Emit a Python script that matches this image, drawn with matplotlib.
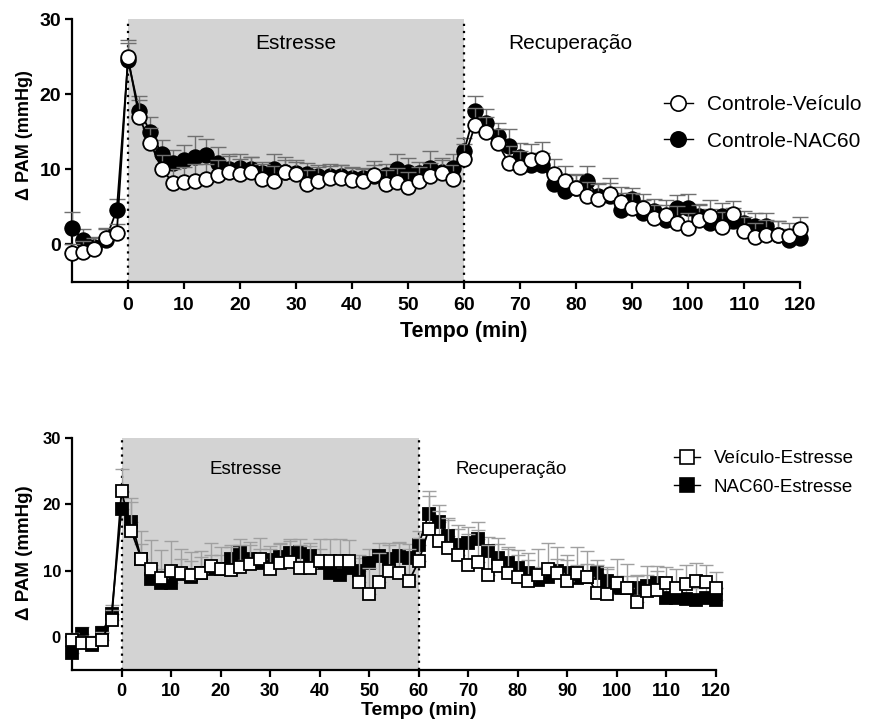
import numpy as np
import matplotlib
matplotlib.use("Agg")
import matplotlib.pyplot as plt
from matplotlib.lines import Line2D

plt.rcParams['font.family'] = ['Liberation Sans', 'DejaVu Sans']

# time points (min), one every 2 min
tempo = list(range(-10, 122, 2))

# top panel: controls
ctrl_veh = [-1.1, -1.0, -0.6, 0.9, 1.5,
            24.9, 16.9, 13.5, 10.1, 8.2, 8.3, 8.5, 8.7, 9.2, 9.7, 9.4,
            9.7, 8.7, 8.5, 9.6, 9.4, 8.0, 8.5, 8.8, 8.8, 8.6,
            8.5, 9.3, 8.1, 8.3, 7.7, 8.4, 9.1, 9.5, 8.7, 11.4,
            15.9, 15.0, 13.5, 10.8, 10.3, 11.3, 11.5, 9.4, 8.5, 7.5,
            6.4, 6.0, 6.7, 5.6, 4.9, 4.9, 3.5, 3.9, 2.9, 2.2,
            3.3, 3.8, 2.3, 4.0, 1.8, 1.0, 1.3, 1.3, 1.1, 2.0]
ctrl_veh_err = [1.2, 1.5, 1.4, 1.3, 1.2,
                2.3, 2.3, 2.0, 1.8, 1.9, 2.0, 2.2, 2.0, 2.0, 2.1, 2.0,
                1.9, 2.0, 1.9, 2.0, 1.8, 1.9, 1.8, 1.7, 1.8, 1.7,
                1.7, 1.8, 1.8, 1.9, 2.0, 1.9, 1.8, 1.8, 1.9, 2.0,
                2.2, 2.0, 1.9, 2.3, 2.1, 2.0, 2.1, 2.0, 1.9, 1.9,
                1.9, 2.0, 2.2, 2.0, 1.9, 1.8, 1.8, 2.0, 2.2, 2.0,
                1.9, 2.1, 2.0, 1.8, 1.8, 1.9, 1.9, 1.8, 1.8, 1.6]
ctrl_nac = [2.2, 0.6, -0.3, 0.6, 4.6,
            24.5, 17.8, 15.0, 12.1, 10.8, 11.2, 11.7, 11.9, 10.8, 10.0, 10.2,
            10.0, 9.5, 10.0, 9.7, 9.5, 9.4, 9.1, 9.1, 9.1, 8.8,
            8.8, 9.1, 9.3, 10.0, 9.7, 9.5, 10.2, 9.7, 10.2, 12.4,
            17.8, 16.2, 14.4, 13.1, 11.7, 10.6, 10.6, 8.0, 7.1, 7.5,
            8.4, 6.4, 6.4, 4.6, 6.0, 4.2, 4.4, 3.3, 4.8, 4.9,
            3.8, 2.9, 3.8, 3.1, 2.8, 2.4, 2.5, 1.3, 0.6, 0.8]
ctrl_nac_err = [2.1, 1.5, 1.3, 1.5, 1.4,
                2.3, 2.0, 2.0, 1.8, 1.8, 2.0, 2.7, 2.1, 2.1, 2.1, 1.9,
                1.7, 1.5, 2.0, 1.6, 1.5, 1.4, 1.5, 1.6, 1.5, 1.4,
                1.3, 1.5, 1.4, 2.0, 1.8, 1.5, 2.2, 1.8, 1.8, 1.7,
                1.9, 1.8, 1.8, 2.3, 1.8, 1.6, 1.6, 1.7, 1.8, 1.7,
                2.0, 1.8, 1.8, 2.3, 1.5, 1.7, 1.6, 1.9, 1.8, 1.8,
                1.6, 1.8, 1.7, 1.7, 1.6, 1.8, 1.7, 1.8, 1.5, 1.6]

# bottom panel: stressed groups
veh_est = [-0.4, -1.0, -0.9, -0.4, 2.6,
           22.0, 15.9, 11.8, 10.3, 8.9, 10.0, 9.6, 9.3, 9.6, 10.7, 10.3,
           10.1, 10.5, 11.0, 11.7, 10.3, 11.1, 11.3, 10.4, 10.4, 11.4,
           11.4, 11.4, 11.4, 8.3, 6.4, 8.3, 9.9, 9.7, 8.4, 11.4,
           16.2, 14.4, 13.4, 12.4, 10.9, 11.3, 9.4, 10.7, 9.6, 9.1,
           8.4, 9.4, 10.2, 9.7, 8.4, 9.6, 9.1, 6.6, 6.4, 8.2,
           7.4, 5.2, 6.9, 7.1, 8.1, 7.4, 7.9, 8.5, 8.3, 7.4]
veh_est_err = [1.0, 1.2, 1.1, 1.2, 1.5,
               3.3, 5.0, 4.2, 4.3, 4.2, 4.4, 3.6, 3.5, 3.4, 3.5, 3.2,
               3.4, 3.3, 3.3, 3.2, 3.0, 3.0, 3.2, 3.4, 3.3, 3.4,
               3.3, 3.3, 3.2, 4.0, 4.0, 4.4, 4.2, 4.6, 4.8, 3.5,
               5.8, 4.6, 4.6, 4.5, 4.6, 4.8, 4.5, 4.2, 4.0, 4.0,
               4.2, 3.9, 4.0, 3.8, 4.0, 4.0, 3.8, 4.2, 4.1, 3.6,
               3.6, 4.2, 3.8, 3.6, 2.4, 2.8, 2.9, 2.7, 2.6, 2.4]
nac_est = [-2.4, 0.5, -1.3, 0.6, 3.5,
           19.3, 17.4, 11.7, 8.7, 8.2, 8.1, 9.5, 9.1, 9.6, 10.2, 10.3,
           11.8, 12.7, 11.7, 11.2, 11.6, 12.0, 12.7, 12.8, 12.2, 11.2,
           9.6, 9.4, 10.4, 9.9, 11.2, 12.2, 11.7, 12.2, 11.9, 13.9,
           18.6, 17.4, 15.2, 13.9, 14.1, 14.8, 12.9, 11.9, 11.2, 10.4,
           9.6, 8.6, 9.1, 9.9, 9.6, 8.9, 9.1, 9.6, 8.4, 7.4,
           7.4, 7.4, 7.6, 8.1, 5.9, 5.9, 5.7, 5.6, 5.9, 5.6]
nac_est_err = [1.2, 1.0, 1.0, 1.1, 1.3,
               2.5, 3.0, 2.3, 2.2, 2.1, 2.0, 2.2, 2.3, 2.4, 2.2, 2.1,
               2.0, 2.1, 2.2, 2.0, 2.1, 2.0, 2.1, 2.0, 2.0, 2.1,
               2.0, 2.1, 2.0, 2.0, 2.1, 2.0, 2.2, 2.0, 2.1, 2.0,
               2.6, 2.5, 2.4, 2.3, 2.4, 2.5, 2.2, 2.1, 2.0, 2.0,
               2.0, 1.9, 2.0, 1.9, 2.0, 1.9, 1.9, 2.0, 1.9, 1.8,
               1.8, 1.8, 1.7, 1.8, 1.7, 1.8, 1.7, 1.8, 1.7, 1.7]


def style_axes(ax, tick_fs_x, tick_fs_y, xpad):
    ax.spines['top'].set_visible(False)
    ax.spines['right'].set_visible(False)
    ax.spines['left'].set_linewidth(1.6)
    ax.spines['bottom'].set_linewidth(1.6)
    ax.set_xlim(-10, 120)
    ax.set_ylim(-5, 30)
    ax.set_xticks(range(0, 121, 10))
    ax.set_yticks([0, 10, 20, 30])
    ax.tick_params(width=1.6, length=5, direction='out')
    ax.tick_params(axis='x', labelsize=tick_fs_x, pad=xpad)
    ax.tick_params(axis='y', labelsize=tick_fs_y, pad=3)
    for lab in ax.get_xticklabels() + ax.get_yticklabels():
        lab.set_fontweight('bold')
    ax.axvspan(0, 60, color='#d3d3d3', zorder=0, lw=0)
    for xv in (0, 60):
        ax.axvline(xv, color='black', ls=(0, (1, 2.2)), lw=1.6, zorder=1)


def draw_series(ax, y, err, marker, fill, ms, ecol, capsize, z):
    lower = [0] * len(err)
    ax.errorbar(tempo, y, yerr=[lower, err], fmt='none', ecolor=ecol,
                elinewidth=1.0, capsize=capsize, capthick=1.0, zorder=z, clip_on=False)
    ax.plot(tempo, y, color='black', lw=1.3, marker=marker, ms=ms, mfc=fill,
            mec='black', mew=1.3, zorder=z + 1, clip_on=False)


fig = plt.figure(figsize=(8.71, 7.26), dpi=100)

# ---- top panel
ax1 = fig.add_axes([72 / 871, 1 - 282 / 726, 728 / 871, 263 / 726])
style_axes(ax1, 14, 14, 6)
draw_series(ax1, ctrl_nac, ctrl_nac_err, 'o', 'black', 10.5, '#707070', 5.5, 3)
draw_series(ax1, ctrl_veh, ctrl_veh_err, 'o', 'white', 10.5, '#707070', 5.5, 5)
ax1.text(30, 26.0, 'Estresse', ha='center', va='baseline', fontsize=15)
ax1.text(79, 26.0, 'Recuperação', ha='center', va='baseline', fontsize=15)
ax1.set_xlabel('Tempo (min)', fontsize=15.5, fontweight='bold')
ax1.xaxis.set_label_coords(60, -10.2, transform=ax1.transData)
ax1.set_ylabel('Δ PAM (mmHg)', fontsize=13, fontweight='bold')
ax1.yaxis.set_label_coords(-17.0, 14.5, transform=ax1.transData)

h1 = [Line2D([], [], color='black', lw=1.0, marker='o', ms=11, mfc='white', mec='black', mew=1.2),
      Line2D([], [], color='black', lw=1.0, marker='o', ms=11, mfc='black', mec='black', mew=1.2)]
fig.legend(h1, ['Controle-Veículo', 'Controle-NAC60'], loc='center left',
           bbox_to_anchor=(649 / 871, 1 - 123 / 726), frameon=False, fontsize=15,
           handlelength=1.4, handletextpad=0.7, labelspacing=0.84, borderpad=0.2)

# ---- bottom panel
ax2 = fig.add_axes([72 / 871, 1 - 670 / 726, 644 / 871, 232 / 726])
style_axes(ax2, 13, 12, 4)
draw_series(ax2, nac_est, nac_est_err, 's', 'black', 9, '#a0a0a0', 4.7, 3)
draw_series(ax2, veh_est, veh_est_err, 's', 'white', 9, '#a0a0a0', 4.7, 5)
ax2.text(25, 24.6, 'Estresse', ha='center', va='baseline', fontsize=13.5)
ax2.text(78.6, 24.6, 'Recuperação', ha='center', va='baseline', fontsize=13.5)
ax2.set_xlabel('Tempo (min)', fontsize=14, fontweight='bold')
ax2.xaxis.set_label_coords(60, -9.9, transform=ax2.transData)
ax2.set_ylabel('Δ PAM (mmHg)', fontsize=13.5, fontweight='bold')
ax2.yaxis.set_label_coords(-17.8, 12.7, transform=ax2.transData)

h2 = [Line2D([], [], color='black', lw=1.0, marker='s', ms=10, mfc='white', mec='black', mew=1.2),
      Line2D([], [], color='black', lw=1.0, marker='s', ms=10, mfc='black', mec='black', mew=1.2)]
fig.legend(h2, ['Veículo-Estresse', 'NAC60-Estresse'], loc='center left',
           bbox_to_anchor=(661 / 871, 1 - 473 / 726), frameon=False, fontsize=13.5,
           handlelength=1.4, handletextpad=0.7, labelspacing=0.61, borderpad=0.2)

fig.savefig('out.png', dpi=100)
